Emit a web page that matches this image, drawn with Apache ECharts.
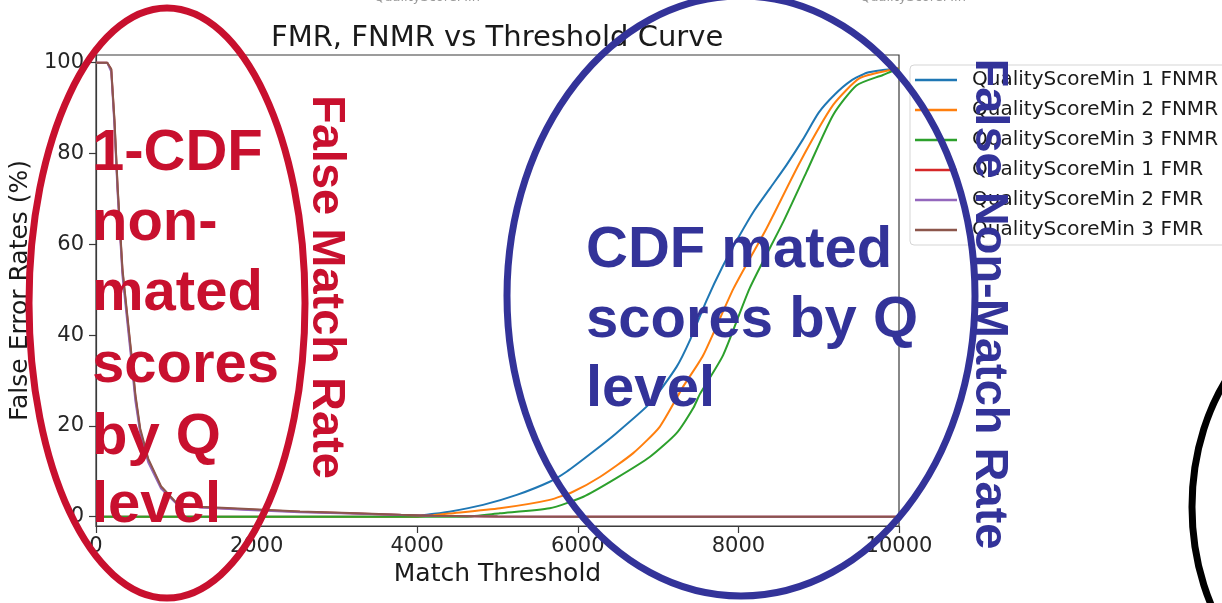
<!DOCTYPE html>
<html>
<head>
<meta charset="utf-8">
<script src="https://cdn.jsdelivr.net/npm/echarts@6/dist/echarts.min.js"></script>
<style>
html,body{margin:0;padding:0;background:#fff;}
#c{width:1222px;height:603px;}
</style>
</head>
<body>
<div id="c"></div>
<script>
// ---- data ----
const yTicks = [0, 20, 40, 60, 80, 100];

const fmrThr = [0, 140, 190, 230, 270, 330, 395, 440, 490, 550, 650, 810, 1000, 1300, 1900, 2540, 3160, 3800, 4200, 5000, 6000, 10000];
const fmrQ1  = [100, 100, 98.5, 87, 72, 54, 43, 35.5, 26.5, 19, 12.5, 6.5, 3.0, 2.1, 1.6, 1.1, 0.75, 0.4, 0.2, 0.05, 0, 0];
const fmrQ2  = [100, 100, 98, 86, 71, 53, 42, 34.5, 25.5, 18.5, 12, 6.2, 2.9, 2.0, 1.5, 1.0, 0.7, 0.4, 0.2, 0.05, 0, 0];
const fmrQ3  = [100, 100, 98.6, 87.5, 72.5, 54.5, 43.5, 36, 27, 19.5, 12.8, 6.7, 3.1, 2.2, 1.7, 1.15, 0.8, 0.42, 0.22, 0.06, 0, 0];

const fnmrThr1 = [0, 4000, 4070, 4400, 4820, 5240, 5650, 5860, 6190, 6480, 6900, 7230, 7400, 7600, 7800, 8000, 8200, 8400, 8600, 8800, 9000, 9200, 9400, 9600, 9800, 10000];
const fnmrQ1   = [0, 0, 0.3, 1.1, 2.6, 4.8, 7.7, 9.9, 14.3, 18.4, 25, 33, 39, 47.5, 55, 61.5, 67.5, 72.5, 77.5, 83, 89, 93, 96, 97.8, 98.4, 98.8];

const fnmrThr2 = [0, 4000, 4400, 5030, 5650, 5940, 6280, 6690, 7020, 7310, 7560, 7940, 8350, 8770, 9180, 9510, 9890, 10000];
const fnmrQ2   = [0, 0, 0.7, 1.85, 3.7, 5.5, 8.8, 14, 19.8, 28.6, 35.5, 50.3, 63.5, 78.2, 90.7, 96.6, 98.4, 98.8];

const fnmrThr3 = [0, 4600, 5030, 5650, 6070, 6480, 6900, 7230, 7440, 7520, 7810, 8140, 8560, 8850, 9180, 9470, 9800, 9950, 10000];
const fnmrQ3   = [0, 0, 0.75, 1.85, 4.4, 8.5, 13.2, 18.4, 24, 27, 35.6, 50.3, 65, 76, 88.5, 95, 97.3, 98.4, 98.6];

const seriesNames = ['QualityScoreMin 1 FNMR', 'QualityScoreMin 2 FNMR', 'QualityScoreMin 3 FNMR',
                     'QualityScoreMin 1 FMR', 'QualityScoreMin 2 FMR', 'QualityScoreMin 3 FMR'];
const seriesColors = ['#1f77b4', '#ff7f0e', '#2ca02c', '#d62728', '#9467bd', '#8c564b'];

const redLines  = ['1-CDF', 'non-', 'mated', 'scores', 'by Q', 'level'];
const blueLines = ['CDF mated', 'scores by Q', 'level'];
const redVertical = 'False Match Rate';
const blueVertical = 'False Non-Match Rate';
const titleText = 'FMR, FNMR vs Threshold Curve';

// ---- chart ----
const pairs = (xs, ys) => xs.map((x, i) => [x, ys[i]]);
const seriesData = [
  pairs(fnmrThr1, fnmrQ1), pairs(fnmrThr2, fnmrQ2), pairs(fnmrThr3, fnmrQ3),
  pairs(fmrThr, fmrQ1), pairs(fmrThr, fmrQ2), pairs(fmrThr, fmrQ3)
];

const FONT = 'DejaVu Sans';
const RED = '#C8102E';
const BLUE = '#333399';
const BOLD = 'Liberation Sans';

const graphics = [];
graphics.push({type:'ellipse', z:100, shape:{cx:167, cy:303, rx:138, ry:295},
  style:{fill:'none', stroke:RED, lineWidth:7}});
graphics.push({type:'ellipse', z:100, shape:{cx:741, cy:296, rx:234, ry:300},
  style:{fill:'none', stroke:BLUE, lineWidth:7}});
graphics.push({type:'ellipse', z:100, shape:{cx:1342, cy:507, rx:150, ry:200},
  style:{fill:'none', stroke:'#000', lineWidth:7}});
const redCenters = [154, 224, 294, 366, 438, 506];
redLines.forEach((t, i) => graphics.push({type:'text', z:101, x:92, y:redCenters[i],
  style:{text:t, fontFamily:BOLD, fontWeight:'bold', fontSize:58, fill:RED, align:'left', verticalAlign:'middle'}}));
const blueCenters = [251, 321, 390];
blueLines.forEach((t, i) => graphics.push({type:'text', z:101, x:586, y:blueCenters[i],
  style:{text:t, fontFamily:BOLD, fontWeight:'bold', fontSize:58, fill:BLUE, align:'left', verticalAlign:'middle'}}));
graphics.push({type:'text', z:101, x:326, y:287, rotation:-Math.PI/2,
  style:{text:redVertical, fontFamily:BOLD, fontWeight:'bold', fontSize:47, fill:RED, align:'center', verticalAlign:'middle'}});
graphics.push({type:'text', z:101, x:989, y:304, rotation:-Math.PI/2,
  style:{text:blueVertical, fontFamily:BOLD, fontWeight:'bold', fontSize:47, fill:BLUE, align:'center', verticalAlign:'middle'}});
graphics.push({type:'text', z:1, x:374, y:-9,
  style:{text:'QualityScoreMin', fontFamily:FONT, fontSize:13, fill:'#999', align:'left', verticalAlign:'top'}});
graphics.push({type:'text', z:1, x:860, y:-9,
  style:{text:'QualityScoreMin', fontFamily:FONT, fontSize:13, fill:'#999', align:'left', verticalAlign:'top'}});

const chart = echarts.init(document.getElementById('c'), null, {renderer:'canvas'});
chart.setOption({
  animation:false,
  backgroundColor:'#fff',
  textStyle:{fontFamily:FONT},
  title:{text:titleText, left:271, top:24, padding:0,
    textStyle:{fontFamily:FONT, fontSize:29, fontWeight:'normal', color:'#1a1a1a'}},
  grid:{left:96, right:323, top:55, bottom:77, show:true, borderColor:'#3a3a3a', borderWidth:1.2, backgroundColor:'transparent'},
  legend:{orient:'vertical', left:910, top:65, itemWidth:42, itemHeight:2.5, itemGap:10, icon:'rect',
    padding:[5, 30, 5, 5], borderColor:'#d5d5d5', borderWidth:1, borderRadius:4, backgroundColor:'#fff',
    data:seriesNames,
    textStyle:{fontFamily:FONT, fontSize:20, lineHeight:20, color:'#1a1a1a', padding:[0,0,0,10]}},
  xAxis:{type:'value', min:0, max:10000, interval:2000,
    name:'Match Threshold', nameLocation:'middle', nameGap:35,
    nameTextStyle:{fontFamily:FONT, fontSize:25, color:'#1a1a1a'},
    axisLine:{show:true, onZero:false, lineStyle:{color:'#3a3a3a', width:1.2}},
    axisTick:{show:true, length:7, lineStyle:{color:'#3a3a3a', width:1.2}},
    axisLabel:{fontFamily:FONT, fontSize:21, color:'#262626', margin:10, formatter:v => String(v)},
    splitLine:{show:false}},
  yAxis:{type:'value', min:-2.05, max:101.7,
    name:'False Error Rates (%)', nameLocation:'middle', nameGap:60, nameRotate:90,
    nameTextStyle:{fontFamily:FONT, fontSize:25, color:'#1a1a1a'},
    axisLine:{show:true, lineStyle:{color:'#3a3a3a', width:1.2}},
    axisTick:{show:true, length:7, customValues:yTicks, lineStyle:{color:'#3a3a3a', width:1.2}},
    axisLabel:{fontFamily:FONT, fontSize:21, color:'#262626', margin:12, customValues:yTicks, formatter:v => String(v)},
    splitLine:{show:false}},
  series: seriesNames.map((n, i) => ({
    name:n, type:'line', data:seriesData[i], symbol:'none', showSymbol:false,
    smooth: i < 3 ? 0.2 : false,
    color:seriesColors[i], lineStyle:{color:seriesColors[i], width:2}, z:2 + i
  })),
  graphic:graphics
});
</script>
</body>
</html>
